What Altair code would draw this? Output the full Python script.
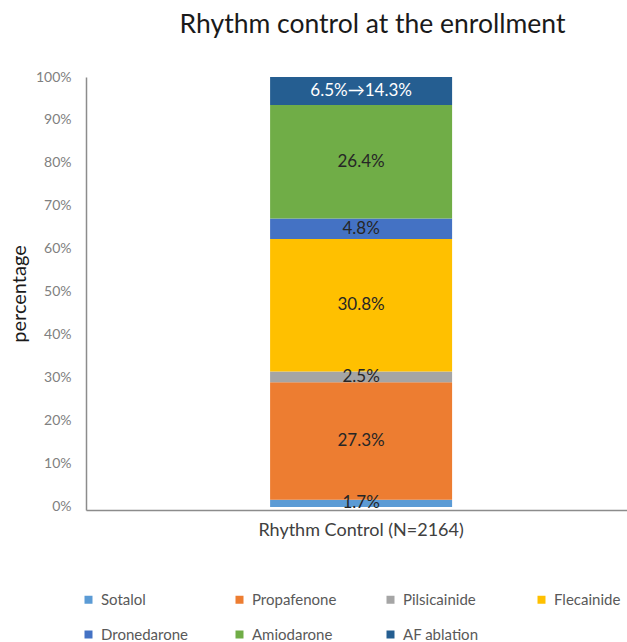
import altair as alt
import pandas as pd

# Share of each rhythm-control strategy at enrollment (percent, bottom to top)
drugs = ["Sotalol", "Propafenone", "Pilsicainide", "Flecainide",
         "Dronedarone", "Amiodarone", "AF ablation"]
shares = [1.7, 27.3, 2.5, 30.8, 4.8, 26.4, 6.5]
labels = ["1.7%", "27.3%", "2.5%", "30.8%", "4.8%", "26.4%", "6.5%\u219214.3%"]
palette = ["#5B9BD5", "#ED7D31", "#A5A5A5", "#FFC000",
           "#4472C4", "#70AD47", "#255E91"]
group = "Rhythm Control (N=2164)"
y_ticks = [0, 10, 20, 30, 40, 50, 60, 70, 80, 90, 100]

df = pd.DataFrame({
    "group": [group] * len(drugs),
    "drug": drugs,
    "share": shares,
    "label": labels,
    "order": list(range(len(drugs))),
})

FONT = "Lato"

x_scale = alt.Scale(paddingInner=0, paddingOuter=0.5, align=0.517)
y_scale = alt.Scale(domain=[-0.7, 100], nice=False, zero=False)

x_enc = alt.X(
    "group:N",
    title=None,
    scale=x_scale,
    axis=alt.Axis(
        labelAngle=0, labelFontSize=18, labelColor="#404040", labelFont=FONT,
        labelPadding=11, labelLimit=400, ticks=False,
        domainColor="#8c8c8c", domainWidth=1.5,
    ),
)

bars = alt.Chart(df).mark_bar(size=182).encode(
    x=x_enc,
    y=alt.Y(
        "sum(share):Q",
        stack="zero",
        scale=y_scale,
        title="percentage",
        axis=alt.Axis(
            values=y_ticks, labelExpr="datum.value + '%'", grid=False,
            ticks=False, labelFontSize=14, labelColor="#808080", labelFont=FONT,
            labelPadding=15, titleFontSize=20, titleColor="#1a1a1a",
            titleFont=FONT, titleFontWeight="normal", titlePadding=6,
            domainColor="#8c8c8c", domainWidth=1.5,
        ),
    ),
    color=alt.Color(
        "drug:N",
        scale=alt.Scale(domain=drugs, range=palette),
        legend=alt.Legend(
            title=None, orient="none", direction="horizontal",
            legendX=-5, legendY=515, columns=4,
            gridAlign="all", columnPadding=44, rowPadding=19,
            symbolType="square", symbolSize=64, symbolStrokeWidth=0,
            labelFontSize=15, labelColor="#595959", labelFont=FONT,
            labelOffset=5, labelLimit=300,
        ),
    ),
    order=alt.Order("order:Q", sort="ascending"),
)

text = alt.Chart(df).transform_stack(
    stack="share", groupby=["group"], as_=["y0", "y1"],
    sort=[alt.SortField("order", order="ascending")],
).transform_calculate(
    mid="(datum.y0 + datum.y1) / 2"
).mark_text(fontSize=17, font=FONT, baseline="middle").encode(
    x=alt.X("group:N", scale=x_scale),
    y=alt.Y("mid:Q", scale=y_scale),
    text="label:N",
    color=alt.condition(
        alt.datum.drug == "AF ablation", alt.value("white"), alt.value("#262626")
    ),
)

chart = alt.layer(bars, text).properties(
    width=541,
    height=433,
    padding={"left": 86, "top": 77, "right": 0, "bottom": 132},
    autosize=alt.AutoSizeParams(type="none"),
    title=alt.TitleParams(
        "Rhythm control at the enrollment", fontSize=26.5, font=FONT,
        fontWeight="normal", color="#1a1a1a", anchor="middle", dx=16, offset=32,
    ),
).configure_view(stroke=None)

chart.save("out.html", embed_options={"renderer": "svg", "actions": False})
